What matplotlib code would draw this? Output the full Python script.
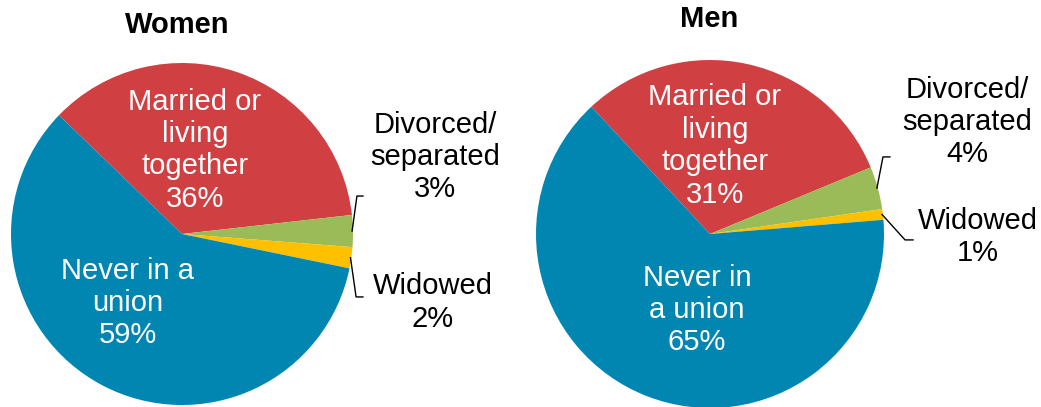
import numpy as np
import matplotlib as mpl
import matplotlib.pyplot as plt

mpl.use('Agg')
plt.rcParams['font.family'] = ['Liberation Sans', 'DejaVu Sans']

categories = ['Married or\nliving\ntogether', 'Divorced/\nseparated', 'Widowed', 'Never in a\nunion']
categories_men = ['Married or\nliving\ntogether', 'Divorced/\nseparated', 'Widowed', 'Never in\na union']
women = [36, 3, 2, 59]
men = [31, 4, 1, 65]
colors = ['#D04043', '#9BBB59', '#FFC000', '#0086B1']
text_colors = ['white', 'black', 'black', 'white']

W, H = 1041, 407
fig = plt.figure(figsize=(W / 100, H / 100), dpi=100)


def draw_pie(cx, cy, r, values, names, start, title, title_xy, label_pos, elbows):
    ax = fig.add_axes([(cx - r) / W, (H - cy - r) / H, 2 * r / W, 2 * r / H])
    wedges, _ = ax.pie(values, colors=colors, startangle=start, counterclock=False,
                       wedgeprops=dict(linewidth=0))
    ax.set_xlim(-1, 1)
    ax.set_ylim(-1, 1)
    for i, (w, name, v) in enumerate(zip(wedges, names, values)):
        x, y = label_pos[i]
        ax.text(x, y, '%s\n%d%%' % (name, v), ha='center', va='center', fontsize=21,
                color=text_colors[i], linespacing=1.2, clip_on=False)
        if elbows[i] is not None:
            mid = np.deg2rad((w.theta1 + w.theta2) / 2)
            ex, ey = elbows[i]
            ax.plot([np.cos(mid) * 0.995, ex[0], ey[0]], [np.sin(mid) * 0.995, ex[1], ey[1]],
                    color='black', lw=1, clip_on=False)
    fig.text(title_xy[0] / W, 1 - title_xy[1] / H, title, ha='center', va='center',
             fontsize=21, fontweight='bold')


# women
draw_pie(182, 234, 171, women, categories, 136, 'Women', (177, 25),
         [(0.076, 0.49), (1.48, 0.45), (1.468, -0.40), (-0.316, -0.404)],
         [None, ((1.023, 0.222), (1.058, 0.222)), ((1.018, -0.368), (1.058, -0.368)), None])

# men
draw_pie(710, 234, 174, men, categories_men, 133, 'Men', (709, 19),
         [(0.029, 0.506), (1.477, 0.644), (1.54, -0.017), (-0.075, -0.437)],
         [None, ((0.994, 0.443), (1.034, 0.443)), ((1.121, -0.034), (1.167, -0.034)), None])

fig.savefig('out.png', dpi=100)
